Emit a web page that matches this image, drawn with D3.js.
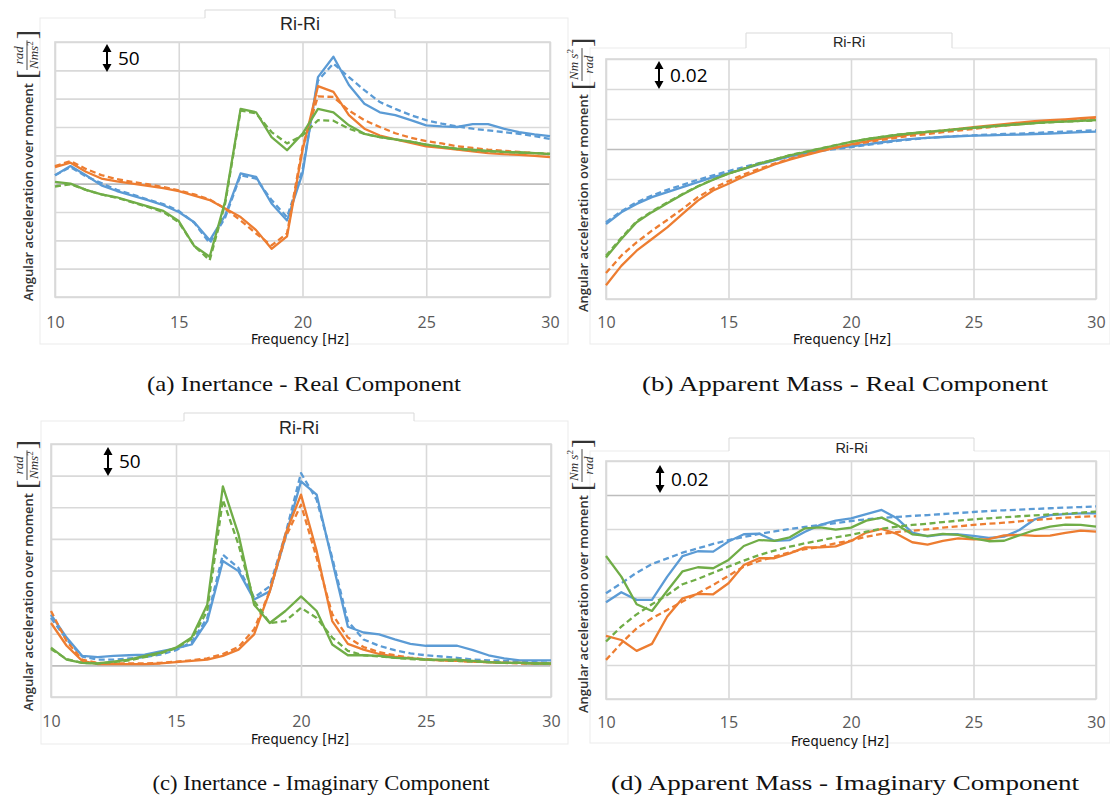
<!DOCTYPE html>
<html>
<head>
<meta charset="utf-8">
<script src="https://cdn.jsdelivr.net/npm/d3@7"></script>
<style>
  body { margin: 0; background: #fff; }
  svg { display: block; }
</style>
</head>
<body>
<svg id="fig" width="1110" height="798"></svg>
<script>
// frequency points (Hz), shared by every measured and fitted series
const freq = [10, 10.625, 11.25, 11.875, 12.5, 13.125, 13.75, 14.375, 15, 15.625, 16.25, 16.875, 17.5, 18.125, 18.75, 19.375,
  20, 20.625, 21.25, 21.875, 22.5, 23.125, 23.75, 24.375, 25, 25.625, 26.25, 26.875, 27.5, 28.125, 28.75, 29.375, 30];
const freqTicks = [10, 15, 20, 25, 30];

// (a) inertance, real part  (solid = measured, Fit = dashed)
const aBlue      = [15, 31, 15, -3, -13, -21, -29, -38, -50, -68, -100, -56, 18, 12, -35, -65, 18, 188, 224, 174, 141, 126, 121, 112, 103, 101, 100, 105, 105, 97, 91, 87, 84];
const aBlueFit   = [15, 29, 13, 1, -11, -19, -28, -36, -48, -69, -105, -60, 15, 9, -29, -59, 24, 182, 212, 188, 165, 144, 132, 121, 112, 106, 101, 97, 94, 91, 88, 84, 79];
const aOrange    = [29, 37, 21, 9, 4, 0, -4, -8, -13, -21, -29, -44, -59, -82, -115, -93, 59, 172, 162, 121, 97, 85, 78, 72, 66, 63, 60, 57, 54, 52, 51, 49, 47];
const aOrangeFit = [31, 40, 26, 15, 8, 3, -1, -6, -12, -19, -28, -44, -65, -88, -109, -88, 65, 154, 153, 129, 112, 100, 89, 81, 75, 71, 66, 63, 60, 58, 56, 54, 52];
const aGreen     = [3, 0, -11, -19, -24, -32, -40, -48, -66, -110, -129, -31, 132, 126, 82, 59, 88, 132, 126, 103, 88, 82, 78, 74, 69, 65, 62, 60, 58, 56, 55, 54, 52];
const aGreenFit  = [-5, -1, -11, -19, -25, -33, -41, -50, -68, -110, -135, -35, 129, 124, 91, 71, 85, 112, 111, 97, 88, 82, 78, 74, 69, 65, 61, 59, 57, 56, 55, 54, 53];

// (b) apparent mass, real part
const bBlue      = [-0.050, -0.0422, -0.0366, -0.0321, -0.0288, -0.0254, -0.0221, -0.0187, -0.0161, -0.0132, -0.0103, -0.0076, -0.0049, -0.0027, -0.0009, 0.0007, 0.0018, 0.0031, 0.0045, 0.0058, 0.0067, 0.0074, 0.0080, 0.0085, 0.0089, 0.0091, 0.0094, 0.0096, 0.0100, 0.0103, 0.0107, 0.0112, 0.0116];
const bBlueFit   = [-0.0488, -0.0415, -0.0355, -0.0310, -0.0272, -0.0239, -0.0205, -0.0176, -0.0147, -0.0120, -0.0094, -0.0071, -0.0049, -0.0031, -0.0013, 0.0000, 0.0013, 0.0027, 0.0040, 0.0054, 0.0065, 0.0074, 0.0080, 0.0087, 0.0091, 0.0096, 0.0100, 0.0103, 0.0107, 0.0112, 0.0116, 0.0120, 0.0125];
const bOrange    = [-0.0908, -0.0779, -0.0678, -0.0600, -0.0522, -0.0433, -0.0344, -0.0277, -0.0232, -0.0183, -0.0143, -0.0103, -0.0071, -0.0042, -0.0016, 0.0009, 0.0031, 0.0051, 0.0069, 0.0085, 0.0100, 0.0112, 0.0123, 0.0134, 0.0145, 0.0156, 0.0165, 0.0176, 0.0185, 0.0192, 0.0198, 0.0205, 0.0212];
const bOrangeFit = [-0.0827, -0.0711, -0.0622, -0.0544, -0.0473, -0.0399, -0.0321, -0.0261, -0.0214, -0.0169, -0.0132, -0.0098, -0.0065, -0.0036, -0.0011, 0.0009, 0.0029, 0.0045, 0.0060, 0.0076, 0.0089, 0.0100, 0.0112, 0.0123, 0.0134, 0.0145, 0.0156, 0.0165, 0.0174, 0.0183, 0.0192, 0.0198, 0.0205];
const bGreen     = [-0.0723, -0.0600, -0.0488, -0.0421, -0.0361, -0.0303, -0.0250, -0.0205, -0.0165, -0.0132, -0.0098, -0.0071, -0.0042, -0.0020, 0.0002, 0.0025, 0.0047, 0.0065, 0.0080, 0.0094, 0.0105, 0.0114, 0.0123, 0.0132, 0.0141, 0.0150, 0.0158, 0.0165, 0.0172, 0.0179, 0.0183, 0.0188, 0.0192];
const bGreenFit  = [-0.0712, -0.0592, -0.0482, -0.0416, -0.0357, -0.0300, -0.0248, -0.0203, -0.0163, -0.0130, -0.0097, -0.0070, -0.0041, -0.0019, 0.0003, 0.0026, 0.0048, 0.0066, 0.0081, 0.0095, 0.0106, 0.0115, 0.0124, 0.0133, 0.0142, 0.0150, 0.0158, 0.0165, 0.0172, 0.0178, 0.0183, 0.0187, 0.0191];

// (c) inertance, imaginary part
const cBlue      = [80, 44, 15, 13, 15, 16, 17, 22, 27, 33, 70, 165, 149, 104, 117, 202, 291, 270, 165, 61, 52, 49, 41, 34, 31, 31, 31, 24, 16, 11, 8, 8, 8];
const cBlueFit   = [75, 41, 14, 9, 9, 11, 13, 17, 24, 37, 75, 175, 154, 107, 125, 207, 304, 262, 170, 70, 41, 31, 24, 19, 16, 14, 12, 9, 8, 7, 6, 5, 4];
const cOrange    = [67, 31, 7, 2, 2, 2, 2, 3, 5, 7, 9, 15, 25, 49, 117, 207, 270, 181, 70, 34, 25, 18, 14, 11, 9, 8, 7, 6, 5, 4, 4, 3, 3];
const cOrangeFit = [86, 38, 9, 4, 3, 3, 3, 4, 6, 8, 11, 18, 29, 57, 117, 202, 254, 170, 81, 44, 29, 21, 16, 12, 10, 8, 7, 6, 5, 4, 3, 3, 2];
const cGreen     = [28, 9, 4, 3, 6, 9, 15, 20, 28, 44, 96, 283, 207, 96, 67, 86, 109, 86, 33, 16, 16, 15, 12, 11, 9, 9, 9, 7, 5, 4, 4, 3, 3];
const cGreenFit  = [26, 10, 4, 3, 5, 8, 13, 19, 27, 42, 86, 262, 191, 102, 67, 70, 91, 75, 44, 23, 16, 14, 12, 10, 9, 8, 7, 6, 5, 4, 4, 3, 3];

// (d) apparent mass, imaginary part
const dBlue      = [-0.0631, -0.0572, -0.0617, -0.0617, -0.0480, -0.0359, -0.0331, -0.0333, -0.0274, -0.0231, -0.0227, -0.0269, -0.0265, -0.0216, -0.0176, -0.0151, -0.0137, -0.0112, -0.0088, -0.0137, -0.0221, -0.0243, -0.0231, -0.0231, -0.0241, -0.0253, -0.0245, -0.0206, -0.0143, -0.0118, -0.0112, -0.0108, -0.0108];
const dBlueFit   = [-0.0578, -0.0519, -0.0457, -0.0406, -0.0373, -0.0339, -0.0314, -0.0288, -0.0265, -0.0247, -0.0229, -0.0214, -0.0200, -0.0188, -0.0176, -0.0165, -0.0153, -0.0143, -0.0135, -0.0129, -0.0123, -0.0118, -0.0112, -0.0106, -0.0100, -0.0094, -0.0090, -0.0086, -0.0082, -0.0078, -0.0074, -0.0071, -0.0067];
const dOrange    = [-0.0829, -0.0853, -0.0917, -0.0876, -0.0715, -0.0608, -0.0582, -0.0584, -0.0519, -0.0412, -0.0372, -0.0372, -0.0343, -0.0308, -0.0308, -0.0302, -0.0270, -0.0221, -0.0200, -0.0229, -0.0278, -0.0292, -0.0270, -0.0255, -0.0261, -0.0259, -0.0237, -0.0235, -0.0241, -0.0239, -0.0223, -0.0210, -0.0216];
const dOrangeFit = [-0.0970, -0.0872, -0.0784, -0.0725, -0.0676, -0.0627, -0.0578, -0.0529, -0.0475, -0.0421, -0.0388, -0.0363, -0.0337, -0.0319, -0.0304, -0.0284, -0.0268, -0.0245, -0.0229, -0.0218, -0.0210, -0.0202, -0.0192, -0.0184, -0.0176, -0.0169, -0.0163, -0.0155, -0.0147, -0.0140, -0.0133, -0.0128, -0.0125];
const dGreen     = [-0.0359, -0.0480, -0.0643, -0.0682, -0.0563, -0.0449, -0.0425, -0.0431, -0.0382, -0.0300, -0.0265, -0.0270, -0.0249, -0.0196, -0.0190, -0.0204, -0.0192, -0.0151, -0.0133, -0.0176, -0.0231, -0.0241, -0.0229, -0.0235, -0.0255, -0.0272, -0.0269, -0.0237, -0.0206, -0.0186, -0.0174, -0.0176, -0.0186];
const dGreenFit  = [-0.0862, -0.0774, -0.0702, -0.0643, -0.0588, -0.0525, -0.0494, -0.0457, -0.0421, -0.0386, -0.0353, -0.0327, -0.0304, -0.0284, -0.0267, -0.0249, -0.0235, -0.0216, -0.0198, -0.0186, -0.0176, -0.0169, -0.0159, -0.0151, -0.0143, -0.0137, -0.0131, -0.0125, -0.0120, -0.0114, -0.0110, -0.0104, -0.0098];

const captions = ["(a) Inertance - Real Component", "(b) Apparent Mass - Real Component",
                  "(c) Inertance - Imaginary Component", "(d) Apparent Mass - Imaginary Component"];
const scaleNotes = ["50", "0.02", "50", "0.02"];
const panelTitle = "Ri-Ri";
const yLabel = "Angular acceleration over moment";
const unitTop = ["rad", "Nm s", "rad", "Nm s"];
const unitBottom = ["Nms", "rad", "Nms", "rad"];

const colors = ["#5b9bd5", "#ed7d31", "#70ad47"];

// layout of the four panels
const panels = [
  { series: [aBlue, aBlueFit, aOrange, aOrangeFit, aGreen, aGreenFit], yMin: -200, step: 50, nGrid: 9,
    x0: 55, x1: 550, y0: 42, y1: 297, frame: [40, 18, 568, 344], tbox: [205, 395, 10], tsize: 18, ty: 24,
    arrowX: 107, arrowY: [44, 72], tickY: 322, fx: 300, fy: 339, labX: 33, labY: 301, cap: [304, 383, 314] },
  { series: [bBlue, bBlueFit, bOrange, bOrangeFit, bGreen, bGreenFit], yMin: -0.10, step: 0.02, nGrid: 8,
    x0: 606, x1: 1096, y0: 59, y1: 299, frame: [590, 48, 1110, 344], tbox: [746, 952, 33], tsize: 14.5, ty: 42,
    arrowX: 659, arrowY: [61, 89], tickY: 322, fx: 842, fy: 339, labX: 588, labY: 312, cap: [845, 383, 406] },
  { series: [cBlue, cBlueFit, cOrange, cOrangeFit, cGreen, cGreenFit], yMin: -50, step: 50, nGrid: 8,
    x0: 51, x1: 551, y0: 444, y1: 697, frame: [41, 421, 568, 744], tbox: [184, 414, 413], tsize: 18, ty: 428,
    arrowX: 108, arrowY: [447, 476], tickY: 721, fx: 300, fy: 739, labX: 33, labY: 711, cap: [321, 782, 337] },
  { series: [dBlue, dBlueFit, dOrange, dOrangeFit, dGreen, dGreenFit], yMin: -0.12, step: 0.02, nGrid: 7,
    x0: 606, x1: 1096, y0: 461, y1: 699, frame: [590, 451, 1110, 743], tbox: [729, 974, 438], tsize: 14.5, ty: 448,
    arrowX: 660, arrowY: [465, 493], tickY: 722, fx: 840, fy: 741, labX: 588, labY: 713, cap: [845, 782, 468] }
];

const svg = d3.select("#fig");

function drawPanel(p, k) {
  const g = svg.append("g");

  // outer chart frame
  g.append("rect")
    .attr("x", p.frame[0]).attr("y", p.frame[1])
    .attr("width", p.frame[2] - p.frame[0]).attr("height", p.frame[3] - p.frame[1])
    .attr("fill", "none").attr("stroke", "#ebebeb");

  // title tab sitting on the frame
  g.append("rect")
    .attr("x", p.tbox[0]).attr("y", p.tbox[2])
    .attr("width", p.tbox[1] - p.tbox[0]).attr("height", p.frame[1] - p.tbox[2] + 1.5)
    .attr("fill", "#fff");
  g.append("path")
    .attr("d", `M${p.tbox[0]},${p.frame[1]}V${p.tbox[2]}H${p.tbox[1]}V${p.frame[1]}`)
    .attr("fill", "none").attr("stroke", "#d9d9d9");
  g.append("text")
    .attr("x", (p.tbox[0] + p.tbox[1]) / 2).attr("y", p.ty).attr("dy", "0.35em")
    .attr("text-anchor", "middle")
    .style("font-family", "'Liberation Sans', Arial, sans-serif").style("font-size", p.tsize + "px")
    .attr("fill", "#262626")
    .text(panelTitle);

  const yMax = p.yMin + p.step * p.nGrid;
  const x = d3.scaleLinear().domain([10, 30]).range([p.x0, p.x1]);
  const y = d3.scaleLinear().domain([p.yMin, yMax]).range([p.y1, p.y0]);

  // horizontal grid (zero line a bit darker)
  const yTicks = d3.range(p.nGrid + 1).map(i => +(p.yMin + i * p.step).toFixed(6));
  const gy = g.append("g")
    .attr("transform", `translate(${p.x0},0)`)
    .call(d3.axisLeft(y).tickValues(yTicks).tickSize(-(p.x1 - p.x0)).tickFormat(""));
  gy.select(".domain").remove();
  gy.selectAll("line")
    .attr("stroke", d => Math.abs(d) < 1e-9 ? "#bdbdbd" : "#d9d9d9")
    .attr("stroke-width", 1.6);

  // vertical grid
  const gx = g.append("g")
    .attr("transform", `translate(0,${p.y1})`)
    .call(d3.axisBottom(x).tickValues(freqTicks).tickSize(-(p.y1 - p.y0)).tickFormat(""));
  gx.select(".domain").remove();
  gx.selectAll("line").attr("stroke", "#d9d9d9").attr("stroke-width", 1.6);

  // plot border
  g.append("rect")
    .attr("x", p.x0).attr("y", p.y0)
    .attr("width", p.x1 - p.x0).attr("height", p.y1 - p.y0)
    .attr("fill", "none").attr("stroke", "#d9d9d9").attr("stroke-width", 1.6);

  // tick labels
  const gt = g.append("g")
    .attr("transform", `translate(0,${p.tickY})`)
    .call(d3.axisBottom(x).tickValues(freqTicks).tickSize(0).tickPadding(0));
  gt.select(".domain").remove();
  gt.selectAll("text")
    .attr("y", 0).attr("dy", "0.35em")
    .attr("fill", "#595959")
    .style("font-family", "'Open Sans', sans-serif").style("font-size", "16px");

  g.append("text")
    .attr("x", p.fx).attr("y", p.fy).attr("dy", "0.35em")
    .attr("text-anchor", "middle")
    .style("font-family", "'Liberation Sans Narrow', 'DejaVu Sans Condensed', sans-serif")
    .style("font-size", "14.5px").attr("fill", "#111")
    .text("Frequency [Hz]");

  // series
  const line = d3.line().x((d, i) => x(freq[i])).y(d => y(d));
  p.series.forEach((s, j) => {
    g.append("path")
      .datum(s)
      .attr("d", line)
      .attr("fill", "none")
      .attr("stroke", colors[Math.floor(j / 2)])
      .attr("stroke-width", 2.3)
      .attr("stroke-linejoin", "round")
      .attr("stroke-dasharray", j % 2 ? "6,3.5" : null);
  });

  // scale note: double arrow + value
  const ax = p.arrowX, a0 = p.arrowY[0], a1 = p.arrowY[1];
  g.append("line")
    .attr("x1", ax).attr("x2", ax).attr("y1", a0 + 5).attr("y2", a1 - 5)
    .attr("stroke", "#000").attr("stroke-width", 2);
  g.append("path").attr("d", `M${ax},${a0}L${ax - 4.5},${a0 + 8}L${ax + 4.5},${a0 + 8}Z`).attr("fill", "#000");
  g.append("path").attr("d", `M${ax},${a1}L${ax - 4.5},${a1 - 8}L${ax + 4.5},${a1 - 8}Z`).attr("fill", "#000");
  g.append("text")
    .attr("x", ax + 11).attr("y", (a0 + a1) / 2).attr("dy", "0.35em")
    .style("font-family", "'Open Sans', sans-serif").style("font-size", "19px").attr("fill", "#000")
    .text(scaleNotes[k]);

  // rotated y label with unit fraction
  const lab = g.append("g").attr("transform", `translate(${p.labX},${p.labY}) rotate(-90)`);
  const t = lab.append("text")
    .style("font-family", "'Open Sans', sans-serif").style("font-size", "13px").style("font-weight", 600)
    .attr("fill", "#333")
    .text(yLabel);
  const w = t.node().getComputedTextLength();
  const serif = "'Liberation Serif', 'DejaVu Serif', serif";
  lab.append("text").attr("x", w + 4).attr("y", 3)
    .style("font-family", serif).style("font-size", "28px").attr("fill", "#333").text("[");
  const num = lab.append("text").attr("y", -10)
    .style("font-family", serif).style("font-size", "13px").style("font-style", "italic").attr("fill", "#333")
    .text(unitTop[k]);
  const den = lab.append("text").attr("y", 5)
    .style("font-family", serif).style("font-size", "13px").style("font-style", "italic").attr("fill", "#333")
    .text(unitBottom[k]);
  // squared exponent on the Nms part
  const sq = (k % 2 === 0) ? den : num;
  sq.append("tspan").attr("dy", -5).style("font-size", "9px").style("font-style", "normal").text("2");
  const fw = Math.max(num.node().getComputedTextLength(), den.node().getComputedTextLength());
  const fx0 = w + 14;
  num.attr("x", fx0 + (fw - num.node().getComputedTextLength()) / 2);
  den.attr("x", fx0 + (fw - den.node().getComputedTextLength()) / 2);
  lab.append("line")
    .attr("x1", fx0 - 1).attr("x2", fx0 + fw + 1).attr("y1", -6).attr("y2", -6)
    .attr("stroke", "#333").attr("stroke-width", 0.9);
  lab.append("text").attr("x", fx0 + fw + 2).attr("y", 3)
    .style("font-family", serif).style("font-size", "28px").attr("fill", "#333").text("]");

  // caption under the panel
  svg.append("text")
    .attr("x", p.cap[0]).attr("y", p.cap[1]).attr("dy", "0.35em")
    .attr("text-anchor", "middle")
    .attr("textLength", p.cap[2]).attr("lengthAdjust", "spacingAndGlyphs")
    .style("font-family", "'Liberation Serif', 'DejaVu Serif', serif").style("font-size", "22px")
    .attr("fill", "#111")
    .text(captions[k]);
}

panels.forEach((p, k) => drawPanel(p, k));
</script>
</body>
</html>
